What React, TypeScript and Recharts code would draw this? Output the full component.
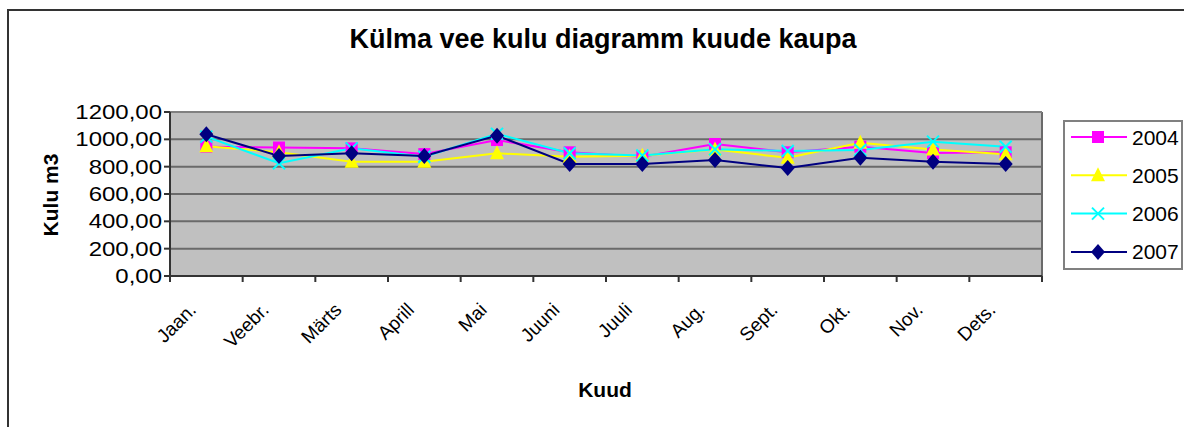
import React from 'react'
import { LineChart, Line, XAxis, YAxis, CartesianGrid, ReferenceLine } from 'recharts'

const months = ['Jaan.', 'Veebr.', 'Märts', 'Aprill', 'Mai', 'Juuni', 'Juuli', 'Aug.', 'Sept.', 'Okt.', 'Nov.', 'Dets.']
const years = ['2004', '2005', '2006', '2007']
const kulu2004 = [946, 940, 934, 892, 995, 905, 873, 966, 905, 946, 900, 905]
const kulu2005 = [950, 905, 836, 836, 898, 873, 880, 925, 865, 975, 925, 890]
const kulu2006 = [1020, 825, 934, 873, 1040, 898, 882, 927, 915, 922, 983, 946]
const kulu2007 = [1037, 878, 898, 878, 1027, 820, 820, 849, 790, 866, 836, 820]
const yTicks = [0, 200, 400, 600, 800, 1000, 1200]

const FONT = '"Liberation Sans", Arial, sans-serif'

const seriesValues = [kulu2004, kulu2005, kulu2006, kulu2007]
const colors = ['#ff00ff', '#ffff00', '#00ffff', '#000080']
const shapes = ['square', 'triangle', 'cross', 'diamond']

const data = months.map((m, i) => {
  const row: Record<string, string | number> = { month: m }
  years.forEach((y, k) => {
    row[y] = seriesValues[k][i]
  })
  return row
})

function Marker({ cx, cy, shape, color }: { cx: number; cy: number; shape: string; color: string }) {
  if (shape === 'square') return <rect x={cx - 6} y={cy - 6} width={12} height={12} fill={color} />
  if (shape === 'triangle')
    return <polygon points={`${cx},${cy - 8} ${cx + 7},${cy + 6} ${cx - 7},${cy + 6}`} fill={color} />
  if (shape === 'cross')
    return (
      <g stroke={color} strokeWidth={2}>
        <line x1={cx - 6} y1={cy - 6} x2={cx + 6} y2={cy + 6} />
        <line x1={cx - 6} y1={cy + 6} x2={cx + 6} y2={cy - 6} />
      </g>
    )
  return <polygon points={`${cx},${cy - 8} ${cx + 7},${cy} ${cx},${cy + 8} ${cx - 7},${cy}`} fill={color} />
}

const fmt = (v: number) => v.toFixed(2).replace('.', ',')

function YTick({ x, y, payload }: any) {
  return (
    <text
      transform={`translate(${x},${y}) scale(1.2,1)`}
      dy={7}
      textAnchor="end"
      fontSize={20}
      fontFamily={FONT}
      fill="#000"
    >
      {fmt(payload.value)}
    </text>
  )
}

// category ticks sit between the months, labels in the middle
function XTick({ x, y, payload, width, visibleTicksCount, index }: any) {
  const half = payload.offset || width / visibleTicksCount / 2
  const last = index === visibleTicksCount - 1
  return (
    <g>
      <line x1={x - half} x2={x - half} y1={y} y2={y + 6} stroke="#333" strokeWidth={2} />
      {last && <line x1={x + half} x2={x + half} y1={y} y2={y + 6} stroke="#333" strokeWidth={2} />}
      <text
        transform={`translate(${x - 9},${y + 35}) rotate(-45)`}
        textAnchor="end"
        fontSize={19}
        fontFamily={FONT}
        fill="#000"
      >
        {payload.value}
      </text>
    </g>
  )
}

export default function App() {
  return (
    <div style={{ position: 'absolute', left: 0, top: 0, width: 1184, height: 427, overflow: 'hidden', background: '#fff' }}>
      <div
        style={{
          position: 'absolute',
          left: 7,
          top: 9,
          width: 1300,
          height: 500,
          borderLeft: '2px solid #333',
          borderTop: '2px solid #333',
        }}
      />
      <div style={{ position: 'absolute', left: 0, top: 0 }}>
        <LineChart width={1184} height={427} data={data} margin={{ top: 112, right: 142, left: 70, bottom: 91 }}>
          <CartesianGrid
            horizontal
            vertical
            verticalCoordinatesGenerator={({ offset }: any) => [offset.left + offset.width]}
            fill="#c0c0c0"
            fillOpacity={1}
            stroke="#6a6a6a"
            strokeWidth={2}
          />
          <XAxis
            dataKey="month"
            scale="band"
            height={60}
            interval={0}
            tickSize={0}
            tickMargin={0}
            tickLine={false}
            axisLine={{ stroke: '#333', strokeWidth: 2 }}
            tick={<XTick />}
          />
          <YAxis
            width={100}
            domain={[0, 1200]}
            ticks={yTicks}
            interval={0}
            tickSize={6}
            tickMargin={2}
            tick={<YTick />}
            tickLine={{ stroke: '#333', strokeWidth: 2 }}
            axisLine={{ stroke: '#333', strokeWidth: 2 }}
          />
          <ReferenceLine y={1200} stroke="#808080" strokeWidth={2} />
          {years.map((y, k) => (
            <Line
              key={y}
              dataKey={y}
              stroke={colors[k]}
              strokeWidth={2}
              isAnimationActive={false}
              dot={(p: any) => (
                <Marker key={`${y}-${p.index}`} cx={p.cx} cy={p.cy} shape={shapes[k]} color={colors[k]} />
              )}
              activeDot={false}
            />
          ))}
        </LineChart>
      </div>
      <svg width={1184} height={427} style={{ position: 'absolute', left: 0, top: 0, pointerEvents: 'none' }}>
        <text x={603} y={48} textAnchor="middle" fontSize={27} fontWeight="bold" fontFamily={FONT} fill="#000">
          Külma vee kulu diagramm kuude kaupa
        </text>
        <text
          transform="translate(58,195) rotate(-90)"
          textAnchor="middle"
          fontSize={21}
          fontWeight="bold"
          fontFamily={FONT}
          fill="#000"
        >
          Kulu m3
        </text>
        <text x={605} y={397} textAnchor="middle" fontSize={21} fontWeight="bold" fontFamily={FONT} fill="#000">
          Kuud
        </text>
        <rect x={1064} y={121} width={118} height={148} fill="#fff" stroke="#808080" strokeWidth={2} />
        {years.map((y, k) => {
          const cy = 137 + k * 38.3
          return (
            <g key={y}>
              <line x1={1071} x2={1127} y1={cy} y2={cy} stroke={colors[k]} strokeWidth={2} />
              <Marker cx={1098} cy={cy} shape={shapes[k]} color={colors[k]} />
              <text x={1132} y={cy + 7.5} fontSize={21} fontFamily={FONT} fill="#000">
                {y}
              </text>
            </g>
          )
        })}
      </svg>
    </div>
  )
}
